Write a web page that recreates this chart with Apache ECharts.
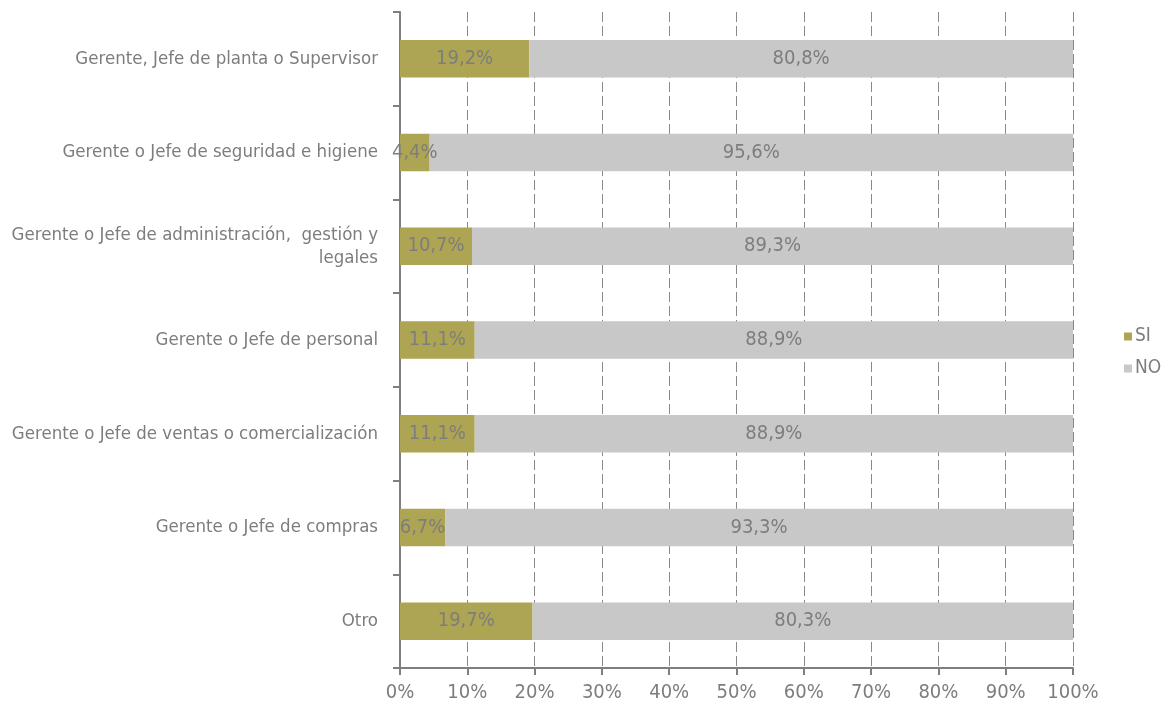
<!DOCTYPE html>
<html>
<head>
<meta charset="utf-8">
<script src="https://cdn.jsdelivr.net/npm/echarts@6/dist/echarts.min.js"></script>
<style>
  html, body { margin: 0; padding: 0; background: #fff; }
  #chart { width: 1163px; height: 705px; }
</style>
</head>
<body>
<div id="chart"></div>
<script>
// Categories from top to bottom
const categories = [
  'Gerente, Jefe de planta o Supervisor',
  'Gerente o Jefe de seguridad e higiene',
  'Gerente o Jefe de administración,  gestión y\nlegales',
  'Gerente o Jefe de personal',
  'Gerente o Jefe de ventas o comercialización',
  'Gerente o Jefe de compras',
  'Otro'
];
const siValues = [19.2, 4.4, 10.7, 11.1, 11.1, 6.7, 19.7];
const noValues = [80.8, 95.6, 89.3, 88.9, 88.9, 93.3, 80.3];
const xTicks = [0, 10, 20, 30, 40, 50, 60, 70, 80, 90, 100];

const FONT = "'DejaVu Sans Condensed', 'Liberation Sans Narrow', 'Roboto', sans-serif";
const TEXT = '#7d7d7d';
const pct = v => v.toFixed(1).replace('.', ',') + '%';

const chart = echarts.init(document.getElementById('chart'), null, { renderer: 'canvas' });
chart.setOption({
  animation: false,
  textStyle: { fontFamily: FONT },
  grid: { left: 400, right: 90, top: 12, bottom: 37, containLabel: false },
  legend: {
    orient: 'vertical',
    left: 1119,
    top: 322,
    itemWidth: 8,
    itemHeight: 8,
    itemGap: 13,
    icon: 'rect',
    textStyle: { color: TEXT, fontSize: 19, fontFamily: FONT, padding: [0, 0, 0, -2] },
    data: ['SI', 'NO']
  },
  xAxis: {
    type: 'value',
    min: xTicks[0],
    max: xTicks[xTicks.length - 1],
    interval: 10,
    axisLine: { show: true, lineStyle: { color: '#7f7f7f', width: 2 } },
    axisTick: { show: true, length: 7, lineStyle: { color: '#7f7f7f', width: 2 } },
    axisLabel: { color: TEXT, fontSize: 20, fontFamily: FONT, margin: 15, formatter: v => v + '%' },
    splitLine: { show: true, lineStyle: { color: '#888', type: [10, 4], width: 1 } }
  },
  yAxis: {
    type: 'category',
    inverse: true,
    data: categories,
    axisLine: { show: true, lineStyle: { color: '#7f7f7f', width: 2 } },
    axisTick: { show: true, length: 7, lineStyle: { color: '#7f7f7f', width: 2 } },
    axisLabel: { color: TEXT, fontSize: 18.5, fontFamily: FONT, margin: 22, align: 'right', lineHeight: 23 }
  },
  series: [
    {
      name: 'SI',
      type: 'bar',
      stack: 'total',
      barWidth: '40%',
      data: siValues,
      itemStyle: { color: '#ada553' },
      label: { show: true, position: 'inside', color: TEXT, fontSize: 20, fontFamily: FONT, formatter: p => pct(p.value) }
    },
    {
      name: 'NO',
      type: 'bar',
      stack: 'total',
      barWidth: '40%',
      data: noValues,
      itemStyle: { color: '#c8c8c8' },
      label: { show: true, position: 'inside', color: TEXT, fontSize: 20, fontFamily: FONT, formatter: p => pct(p.value) }
    }
  ]
});
</script>
</body>
</html>
